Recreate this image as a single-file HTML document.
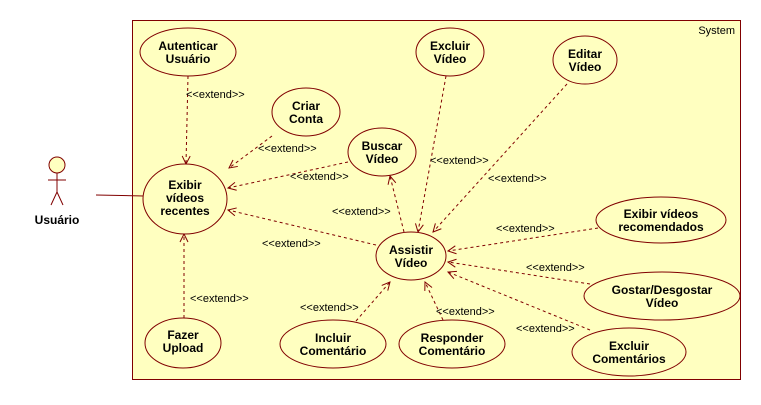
<!DOCTYPE html>
<html><head><meta charset="utf-8"><style>
body{margin:0;background:#fff}
svg text{font-family:"Liberation Sans",sans-serif;font-size:11px;fill:#000}
.b{font-weight:bold;text-anchor:middle;font-size:12px}
</style></head><body>
<svg width="761" height="400" viewBox="0 0 761 400" xmlns="http://www.w3.org/2000/svg">
<defs><marker id="a" markerWidth="10" markerHeight="10" refX="9" refY="5" orient="auto" markerUnits="userSpaceOnUse"><path d="M1,1 L9,5 L1,9" fill="none" stroke="#800000" stroke-width="1"/></marker></defs>
<rect x="132.5" y="20.5" width="608" height="359" fill="#ffffc0" stroke="#800000"/>
<text x="735" y="34" text-anchor="end">System</text>
<g stroke="#800000" fill="none">
<circle cx="57" cy="165" r="8" fill="#ffffc0"/>
<line x1="57" y1="173" x2="57" y2="192"/><line x1="48" y1="180" x2="66" y2="180"/>
<line x1="57" y1="192" x2="51" y2="205"/><line x1="57" y1="192" x2="63" y2="205"/>
<line x1="96" y1="195" x2="144" y2="196"/>
</g>
<text class="b" x="57" y="224">Usuário</text>
<g stroke="#800000" fill="none" stroke-dasharray="3,3" marker-end="url(#a)">
<line x1="188" y1="76" x2="186" y2="164"/>
<line x1="272" y1="136" x2="229" y2="168"/>
<line x1="348" y1="162" x2="228" y2="188"/>
<line x1="376" y1="245" x2="228" y2="210"/>
<line x1="404" y1="232" x2="390" y2="176"/>
<line x1="446" y1="76" x2="418" y2="232"/>
<line x1="567" y1="84" x2="433" y2="232"/>
<line x1="598" y1="228" x2="448" y2="251"/>
<line x1="590" y1="284" x2="448" y2="262"/>
<line x1="590" y1="330" x2="448" y2="272"/>
<line x1="356" y1="321" x2="390" y2="282"/>
<line x1="443" y1="320" x2="425" y2="282"/>
<line x1="184" y1="318" x2="184" y2="234"/>
</g>
<g>
<text x="186" y="98">&lt;&lt;extend&gt;&gt;</text>
<text x="258" y="152">&lt;&lt;extend&gt;&gt;</text>
<text x="290" y="180">&lt;&lt;extend&gt;&gt;</text>
<text x="332" y="215">&lt;&lt;extend&gt;&gt;</text>
<text x="262" y="247">&lt;&lt;extend&gt;&gt;</text>
<text x="430" y="164">&lt;&lt;extend&gt;&gt;</text>
<text x="488" y="182">&lt;&lt;extend&gt;&gt;</text>
<text x="496" y="232">&lt;&lt;extend&gt;&gt;</text>
<text x="526" y="271">&lt;&lt;extend&gt;&gt;</text>
<text x="516" y="332">&lt;&lt;extend&gt;&gt;</text>
<text x="300" y="311">&lt;&lt;extend&gt;&gt;</text>
<text x="436" y="315">&lt;&lt;extend&gt;&gt;</text>
<text x="190" y="302">&lt;&lt;extend&gt;&gt;</text>
</g>
<g fill="#ffffc0" stroke="#800000">
<ellipse cx="188" cy="52" rx="48" ry="24"/>
<ellipse cx="306" cy="112" rx="34" ry="24"/>
<ellipse cx="382" cy="152" rx="34" ry="24"/>
<ellipse cx="450" cy="52" rx="34" ry="24"/>
<ellipse cx="585" cy="60" rx="32" ry="24"/>
<ellipse cx="185" cy="199" rx="42" ry="35"/>
<ellipse cx="411" cy="256" rx="35" ry="24"/>
<ellipse cx="661" cy="220" rx="65" ry="23"/>
<ellipse cx="662" cy="296" rx="78" ry="24"/>
<ellipse cx="629" cy="352" rx="57" ry="24"/>
<ellipse cx="333" cy="344" rx="53" ry="24"/>
<ellipse cx="452" cy="344" rx="53" ry="24"/>
<ellipse cx="183" cy="343" rx="38" ry="25"/>
</g>
<g>
<text class="b" x="188" y="50">Autenticar</text><text class="b" x="188" y="63">Usuário</text>
<text class="b" x="306" y="110">Criar</text><text class="b" x="306" y="123">Conta</text>
<text class="b" x="382" y="150">Buscar</text><text class="b" x="382" y="163">Vídeo</text>
<text class="b" x="450" y="50">Excluir</text><text class="b" x="450" y="63">Vídeo</text>
<text class="b" x="585" y="58">Editar</text><text class="b" x="585" y="71">Vídeo</text>
<text class="b" x="185" y="189">Exibir</text><text class="b" x="185" y="202">vídeos</text><text class="b" x="185" y="215">recentes</text>
<text class="b" x="411" y="254">Assistir</text><text class="b" x="411" y="267">Vídeo</text>
<text class="b" x="661" y="218">Exibir vídeos</text><text class="b" x="661" y="231">recomendados</text>
<text class="b" x="662" y="294">Gostar/Desgostar</text><text class="b" x="662" y="307">Vídeo</text>
<text class="b" x="629" y="350">Excluir</text><text class="b" x="629" y="363">Comentários</text>
<text class="b" x="333" y="342">Incluir</text><text class="b" x="333" y="355">Comentário</text>
<text class="b" x="452" y="342">Responder</text><text class="b" x="452" y="355">Comentário</text>
<text class="b" x="183" y="339">Fazer</text><text class="b" x="183" y="352">Upload</text>
</g>
</svg>
</body></html>
